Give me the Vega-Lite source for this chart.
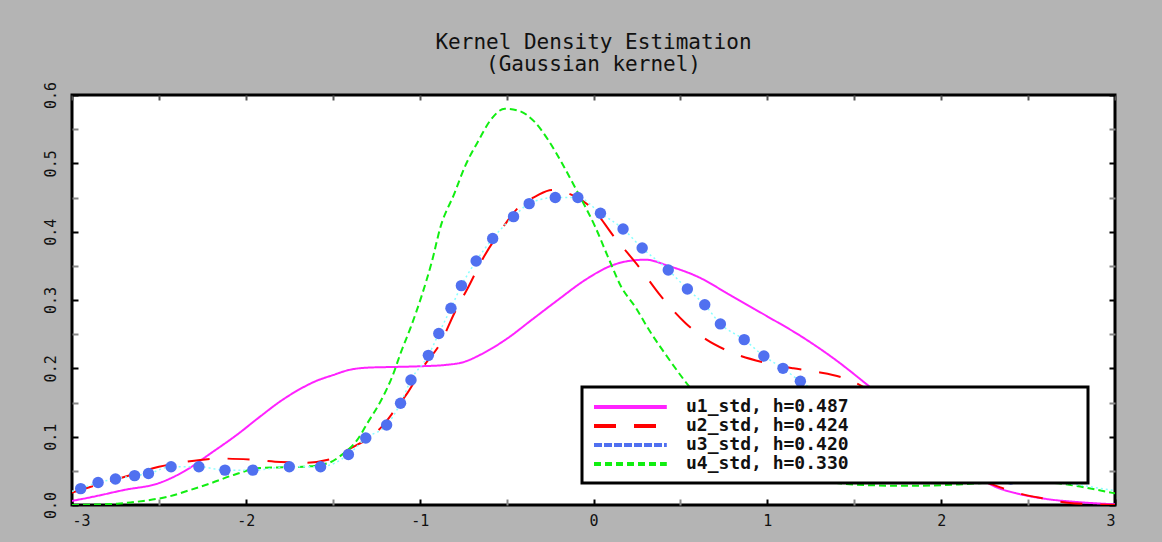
{
  "$schema": "https://vega.github.io/schema/vega-lite/v6.json",
  "autosize": {"type": "none"},
  "width": 1043,
  "height": 410,
  "padding": {"left": 72, "top": 95, "right": 47, "bottom": 37},
  "background": "#b4b4b4",
  "title": {
    "text": ["Kernel Density Estimation", "(Gaussian kernel)"],
    "anchor": "middle",
    "font": "DejaVu Sans Mono",
    "fontSize": 21,
    "fontWeight": "normal",
    "color": "#111111",
    "lineHeight": 22,
    "offset": 6
  },
  "config": {
    "view": {"fill": "white", "stroke": "black", "strokeWidth": 3},
    "axis": {"grid": false, "domain": false, "labelFont": "DejaVu Sans Mono", "labelFontSize": 15, "labelColor": "#111111", "tickWidth": 2},
    "legend": {"strokeWidth": 3}
  },
  "datasets": {
    "curves": [
      {"series": "u1_std, h=0.487", "x": -3.0, "y": 0.006},
      {"series": "u1_std, h=0.487", "x": -2.88, "y": 0.012},
      {"series": "u1_std, h=0.487", "x": -2.7, "y": 0.022},
      {"series": "u1_std, h=0.487", "x": -2.5, "y": 0.032},
      {"series": "u1_std, h=0.487", "x": -2.35, "y": 0.05},
      {"series": "u1_std, h=0.487", "x": -2.2, "y": 0.076},
      {"series": "u1_std, h=0.487", "x": -2.05, "y": 0.103},
      {"series": "u1_std, h=0.487", "x": -1.92, "y": 0.129},
      {"series": "u1_std, h=0.487", "x": -1.8, "y": 0.152},
      {"series": "u1_std, h=0.487", "x": -1.7, "y": 0.168},
      {"series": "u1_std, h=0.487", "x": -1.6, "y": 0.181},
      {"series": "u1_std, h=0.487", "x": -1.5, "y": 0.19},
      {"series": "u1_std, h=0.487", "x": -1.4, "y": 0.198},
      {"series": "u1_std, h=0.487", "x": -1.3, "y": 0.201},
      {"series": "u1_std, h=0.487", "x": -1.15, "y": 0.202},
      {"series": "u1_std, h=0.487", "x": -1.0, "y": 0.203},
      {"series": "u1_std, h=0.487", "x": -0.85, "y": 0.205},
      {"series": "u1_std, h=0.487", "x": -0.75, "y": 0.209},
      {"series": "u1_std, h=0.487", "x": -0.65, "y": 0.22},
      {"series": "u1_std, h=0.487", "x": -0.5, "y": 0.243},
      {"series": "u1_std, h=0.487", "x": -0.35, "y": 0.272},
      {"series": "u1_std, h=0.487", "x": -0.2, "y": 0.301},
      {"series": "u1_std, h=0.487", "x": -0.05, "y": 0.329},
      {"series": "u1_std, h=0.487", "x": 0.1, "y": 0.35},
      {"series": "u1_std, h=0.487", "x": 0.2, "y": 0.357},
      {"series": "u1_std, h=0.487", "x": 0.3, "y": 0.359},
      {"series": "u1_std, h=0.487", "x": 0.43, "y": 0.35},
      {"series": "u1_std, h=0.487", "x": 0.6, "y": 0.334},
      {"series": "u1_std, h=0.487", "x": 0.8, "y": 0.305},
      {"series": "u1_std, h=0.487", "x": 1.0, "y": 0.276},
      {"series": "u1_std, h=0.487", "x": 1.2, "y": 0.246},
      {"series": "u1_std, h=0.487", "x": 1.4, "y": 0.211},
      {"series": "u1_std, h=0.487", "x": 1.56, "y": 0.179},
      {"series": "u1_std, h=0.487", "x": 1.7, "y": 0.15},
      {"series": "u1_std, h=0.487", "x": 1.85, "y": 0.115},
      {"series": "u1_std, h=0.487", "x": 2.0, "y": 0.082},
      {"series": "u1_std, h=0.487", "x": 2.15, "y": 0.052},
      {"series": "u1_std, h=0.487", "x": 2.3, "y": 0.028},
      {"series": "u1_std, h=0.487", "x": 2.45, "y": 0.016},
      {"series": "u1_std, h=0.487", "x": 2.6, "y": 0.009},
      {"series": "u1_std, h=0.487", "x": 2.8, "y": 0.004},
      {"series": "u1_std, h=0.487", "x": 3.0, "y": 0.001},

      {"series": "u2_std, h=0.424", "x": -3.0, "y": 0.018},
      {"series": "u2_std, h=0.424", "x": -2.9, "y": 0.026},
      {"series": "u2_std, h=0.424", "x": -2.7, "y": 0.041},
      {"series": "u2_std, h=0.424", "x": -2.5, "y": 0.056},
      {"series": "u2_std, h=0.424", "x": -2.35, "y": 0.063},
      {"series": "u2_std, h=0.424", "x": -2.15, "y": 0.068},
      {"series": "u2_std, h=0.424", "x": -1.95, "y": 0.066},
      {"series": "u2_std, h=0.424", "x": -1.8, "y": 0.063},
      {"series": "u2_std, h=0.424", "x": -1.65, "y": 0.062},
      {"series": "u2_std, h=0.424", "x": -1.5, "y": 0.068},
      {"series": "u2_std, h=0.424", "x": -1.42, "y": 0.08},
      {"series": "u2_std, h=0.424", "x": -1.3, "y": 0.097},
      {"series": "u2_std, h=0.424", "x": -1.22, "y": 0.114},
      {"series": "u2_std, h=0.424", "x": -1.14, "y": 0.14},
      {"series": "u2_std, h=0.424", "x": -1.07, "y": 0.164},
      {"series": "u2_std, h=0.424", "x": -0.98, "y": 0.202},
      {"series": "u2_std, h=0.424", "x": -0.88, "y": 0.237},
      {"series": "u2_std, h=0.424", "x": -0.8, "y": 0.281},
      {"series": "u2_std, h=0.424", "x": -0.72, "y": 0.319},
      {"series": "u2_std, h=0.424", "x": -0.64, "y": 0.359},
      {"series": "u2_std, h=0.424", "x": -0.53, "y": 0.403},
      {"series": "u2_std, h=0.424", "x": -0.43, "y": 0.436},
      {"series": "u2_std, h=0.424", "x": -0.33, "y": 0.452},
      {"series": "u2_std, h=0.424", "x": -0.24, "y": 0.461},
      {"series": "u2_std, h=0.424", "x": -0.17, "y": 0.458},
      {"series": "u2_std, h=0.424", "x": -0.08, "y": 0.448},
      {"series": "u2_std, h=0.424", "x": 0.0, "y": 0.432},
      {"series": "u2_std, h=0.424", "x": 0.12, "y": 0.392},
      {"series": "u2_std, h=0.424", "x": 0.26, "y": 0.349},
      {"series": "u2_std, h=0.424", "x": 0.39, "y": 0.305},
      {"series": "u2_std, h=0.424", "x": 0.53, "y": 0.266},
      {"series": "u2_std, h=0.424", "x": 0.65, "y": 0.242},
      {"series": "u2_std, h=0.424", "x": 0.76, "y": 0.227},
      {"series": "u2_std, h=0.424", "x": 0.99, "y": 0.208},
      {"series": "u2_std, h=0.424", "x": 1.15, "y": 0.2},
      {"series": "u2_std, h=0.424", "x": 1.28, "y": 0.195},
      {"series": "u2_std, h=0.424", "x": 1.47, "y": 0.183},
      {"series": "u2_std, h=0.424", "x": 1.6, "y": 0.165},
      {"series": "u2_std, h=0.424", "x": 1.75, "y": 0.13},
      {"series": "u2_std, h=0.424", "x": 1.9, "y": 0.095},
      {"series": "u2_std, h=0.424", "x": 2.05, "y": 0.065},
      {"series": "u2_std, h=0.424", "x": 2.2, "y": 0.04},
      {"series": "u2_std, h=0.424", "x": 2.35, "y": 0.025},
      {"series": "u2_std, h=0.424", "x": 2.45, "y": 0.017},
      {"series": "u2_std, h=0.424", "x": 2.6, "y": 0.009},
      {"series": "u2_std, h=0.424", "x": 2.74, "y": 0.003},
      {"series": "u2_std, h=0.424", "x": 2.9, "y": 0.001},
      {"series": "u2_std, h=0.424", "x": 3.0, "y": 0.0},

      {"series": "u3_std, h=0.420", "x": -3.0, "y": 0.02, "m": 0},
      {"series": "u3_std, h=0.420", "x": -2.95, "y": 0.024, "m": 1},
      {"series": "u3_std, h=0.420", "x": -2.85, "y": 0.033, "m": 1},
      {"series": "u3_std, h=0.420", "x": -2.75, "y": 0.038, "m": 1},
      {"series": "u3_std, h=0.420", "x": -2.64, "y": 0.043, "m": 1},
      {"series": "u3_std, h=0.420", "x": -2.56, "y": 0.046, "m": 1},
      {"series": "u3_std, h=0.420", "x": -2.43, "y": 0.056, "m": 1},
      {"series": "u3_std, h=0.420", "x": -2.27, "y": 0.056, "m": 1},
      {"series": "u3_std, h=0.420", "x": -2.12, "y": 0.051, "m": 1},
      {"series": "u3_std, h=0.420", "x": -1.96, "y": 0.051, "m": 1},
      {"series": "u3_std, h=0.420", "x": -1.75, "y": 0.056, "m": 1},
      {"series": "u3_std, h=0.420", "x": -1.57, "y": 0.056, "m": 1},
      {"series": "u3_std, h=0.420", "x": -1.41, "y": 0.074, "m": 1},
      {"series": "u3_std, h=0.420", "x": -1.31, "y": 0.098, "m": 1},
      {"series": "u3_std, h=0.420", "x": -1.19, "y": 0.117, "m": 1},
      {"series": "u3_std, h=0.420", "x": -1.11, "y": 0.149, "m": 1},
      {"series": "u3_std, h=0.420", "x": -1.05, "y": 0.183, "m": 1},
      {"series": "u3_std, h=0.420", "x": -0.95, "y": 0.219, "m": 1},
      {"series": "u3_std, h=0.420", "x": -0.89, "y": 0.251, "m": 1},
      {"series": "u3_std, h=0.420", "x": -0.82, "y": 0.288, "m": 1},
      {"series": "u3_std, h=0.420", "x": -0.76, "y": 0.321, "m": 1},
      {"series": "u3_std, h=0.420", "x": -0.675, "y": 0.357, "m": 1},
      {"series": "u3_std, h=0.420", "x": -0.58, "y": 0.39, "m": 1},
      {"series": "u3_std, h=0.420", "x": -0.46, "y": 0.422, "m": 1},
      {"series": "u3_std, h=0.420", "x": -0.37, "y": 0.441, "m": 1},
      {"series": "u3_std, h=0.420", "x": -0.22, "y": 0.45, "m": 1},
      {"series": "u3_std, h=0.420", "x": -0.09, "y": 0.45, "m": 1},
      {"series": "u3_std, h=0.420", "x": 0.04, "y": 0.427, "m": 1},
      {"series": "u3_std, h=0.420", "x": 0.17, "y": 0.404, "m": 1},
      {"series": "u3_std, h=0.420", "x": 0.28, "y": 0.376, "m": 1},
      {"series": "u3_std, h=0.420", "x": 0.43, "y": 0.344, "m": 1},
      {"series": "u3_std, h=0.420", "x": 0.54, "y": 0.316, "m": 1},
      {"series": "u3_std, h=0.420", "x": 0.64, "y": 0.293, "m": 1},
      {"series": "u3_std, h=0.420", "x": 0.73, "y": 0.265, "m": 1},
      {"series": "u3_std, h=0.420", "x": 0.867, "y": 0.242, "m": 1},
      {"series": "u3_std, h=0.420", "x": 0.98, "y": 0.218, "m": 1},
      {"series": "u3_std, h=0.420", "x": 1.09, "y": 0.2, "m": 1},
      {"series": "u3_std, h=0.420", "x": 1.19, "y": 0.181, "m": 1},
      {"series": "u3_std, h=0.420", "x": 1.32, "y": 0.16, "m": 1},
      {"series": "u3_std, h=0.420", "x": 1.46, "y": 0.135, "m": 1},
      {"series": "u3_std, h=0.420", "x": 1.62, "y": 0.105, "m": 1},
      {"series": "u3_std, h=0.420", "x": 1.8, "y": 0.077, "m": 1},
      {"series": "u3_std, h=0.420", "x": 2.0, "y": 0.055, "m": 1},
      {"series": "u3_std, h=0.420", "x": 2.2, "y": 0.043, "m": 1},
      {"series": "u3_std, h=0.420", "x": 2.4, "y": 0.038, "m": 1},
      {"series": "u3_std, h=0.420", "x": 2.6, "y": 0.034, "m": 0},
      {"series": "u3_std, h=0.420", "x": 2.8, "y": 0.029, "m": 0},
      {"series": "u3_std, h=0.420", "x": 2.9, "y": 0.025, "m": 0},
      {"series": "u3_std, h=0.420", "x": 3.0, "y": 0.021, "m": 0},

      {"series": "u4_std, h=0.330", "x": -3.0, "y": 0.0},
      {"series": "u4_std, h=0.330", "x": -2.74, "y": 0.002},
      {"series": "u4_std, h=0.330", "x": -2.59, "y": 0.006},
      {"series": "u4_std, h=0.330", "x": -2.45, "y": 0.012},
      {"series": "u4_std, h=0.330", "x": -2.32, "y": 0.022},
      {"series": "u4_std, h=0.330", "x": -2.2, "y": 0.032},
      {"series": "u4_std, h=0.330", "x": -2.07, "y": 0.044},
      {"series": "u4_std, h=0.330", "x": -1.92, "y": 0.054},
      {"series": "u4_std, h=0.330", "x": -1.82, "y": 0.055},
      {"series": "u4_std, h=0.330", "x": -1.67, "y": 0.056},
      {"series": "u4_std, h=0.330", "x": -1.53, "y": 0.061},
      {"series": "u4_std, h=0.330", "x": -1.45, "y": 0.073},
      {"series": "u4_std, h=0.330", "x": -1.36, "y": 0.095},
      {"series": "u4_std, h=0.330", "x": -1.3, "y": 0.12},
      {"series": "u4_std, h=0.330", "x": -1.22, "y": 0.154},
      {"series": "u4_std, h=0.330", "x": -1.15, "y": 0.193},
      {"series": "u4_std, h=0.330", "x": -1.11, "y": 0.222},
      {"series": "u4_std, h=0.330", "x": -1.05, "y": 0.261},
      {"series": "u4_std, h=0.330", "x": -0.99, "y": 0.305},
      {"series": "u4_std, h=0.330", "x": -0.93, "y": 0.356},
      {"series": "u4_std, h=0.330", "x": -0.88, "y": 0.407},
      {"series": "u4_std, h=0.330", "x": -0.8, "y": 0.456},
      {"series": "u4_std, h=0.330", "x": -0.74, "y": 0.495},
      {"series": "u4_std, h=0.330", "x": -0.66, "y": 0.534},
      {"series": "u4_std, h=0.330", "x": -0.59, "y": 0.564},
      {"series": "u4_std, h=0.330", "x": -0.51, "y": 0.58},
      {"series": "u4_std, h=0.330", "x": -0.43, "y": 0.577},
      {"series": "u4_std, h=0.330", "x": -0.34, "y": 0.561},
      {"series": "u4_std, h=0.330", "x": -0.26, "y": 0.534},
      {"series": "u4_std, h=0.330", "x": -0.17, "y": 0.495},
      {"series": "u4_std, h=0.330", "x": -0.09, "y": 0.457},
      {"series": "u4_std, h=0.330", "x": 0.01, "y": 0.407},
      {"series": "u4_std, h=0.330", "x": 0.09, "y": 0.359},
      {"series": "u4_std, h=0.330", "x": 0.16, "y": 0.319},
      {"series": "u4_std, h=0.330", "x": 0.24, "y": 0.29},
      {"series": "u4_std, h=0.330", "x": 0.32, "y": 0.256},
      {"series": "u4_std, h=0.330", "x": 0.41, "y": 0.222},
      {"series": "u4_std, h=0.330", "x": 0.53, "y": 0.18},
      {"series": "u4_std, h=0.330", "x": 0.7, "y": 0.128},
      {"series": "u4_std, h=0.330", "x": 0.9, "y": 0.08},
      {"series": "u4_std, h=0.330", "x": 1.1, "y": 0.05},
      {"series": "u4_std, h=0.330", "x": 1.3, "y": 0.036},
      {"series": "u4_std, h=0.330", "x": 1.5, "y": 0.03},
      {"series": "u4_std, h=0.330", "x": 1.8, "y": 0.028},
      {"series": "u4_std, h=0.330", "x": 2.1, "y": 0.03},
      {"series": "u4_std, h=0.330", "x": 2.4, "y": 0.034},
      {"series": "u4_std, h=0.330", "x": 2.6, "y": 0.033},
      {"series": "u4_std, h=0.330", "x": 2.8, "y": 0.027},
      {"series": "u4_std, h=0.330", "x": 2.9, "y": 0.022},
      {"series": "u4_std, h=0.330", "x": 3.0, "y": 0.017}
    ]
  },
  "resolve": {"axis": {"x": "independent", "y": "independent"}},
  "layer": [
    {
      "data": {"name": "curves"},
      "transform": [{"filter": "datum.series != 'u3_std, h=0.420'"}],
      "mark": {"type": "line", "strokeWidth": 2, "clip": true, "interpolate": "monotone"},
      "encoding": {
        "x": {
          "field": "x", "type": "quantitative",
          "scale": {"domain": [-3, 3], "nice": false, "zero": false},
          "axis": {
            "orient": "bottom", "title": null,
            "values": [-3, -2.5, -2, -1.5, -1, -0.5, 0, 0.5, 1, 1.5, 2, 2.5, 3],
            "labelExpr": "datum.value % 1 == 0 ? replace(format(datum.value, 'd'), '−', '-') : ''",
            "tickSize": -6, "labelPadding": 14,
            "tickColor": {"condition": {"test": "datum.value % 1 == 0", "value": "black"}, "value": "#888888"}
          }
        },
        "y": {
          "field": "y", "type": "quantitative",
          "scale": {"domain": [0, 0.6], "nice": false, "zero": false},
          "axis": {
            "orient": "left", "title": null,
            "values": [0, 0.05, 0.1, 0.15, 0.2, 0.25, 0.3, 0.35, 0.4, 0.45, 0.5, 0.55, 0.6],
            "labelExpr": "abs(round(datum.value * 20)) % 2 == 0 ? format(datum.value, '.1f') : ''",
            "labelAngle": -90, "labelAlign": "center", "labelBaseline": "bottom",
            "tickSize": -6, "labelPadding": 20,
            "tickColor": {"condition": {"test": "abs(round(datum.value * 20)) % 2 == 0", "value": "black"}, "value": "#888888"}
          }
        },
        "color": {
          "field": "series", "type": "nominal",
          "scale": {
            "domain": ["u1_std, h=0.487", "u2_std, h=0.424", "u3_std, h=0.420", "u4_std, h=0.330"],
            "range": ["#ff22ff", "#ff0000", "#5070f0", "#11ee11"]
          },
          "legend": {
            "orient": "none", "legendX": 510, "legendY": 292,
            "title": ".", "titleOrient": "right", "titleColor": "white", "titleFontSize": 8, "titlePadding": 226,
            "fillColor": "white", "strokeColor": "black",
            "padding": 10, "rowPadding": 0,
            "symbolType": "M-1,0H8.1", "symbolSize": 256, "symbolStrokeWidth": 4,
            "labelFont": "DejaVu Sans Mono", "labelFontSize": 18, "labelFontWeight": "bold", "labelColor": "#111111",
            "labelOffset": 74, "labelLimit": 800,
            "encode": {
              "symbols": {
                "update": {
                  "stroke": {"signal": "datum.value == 'u1_std, h=0.487' ? '#ff80ff' : scale('color', datum.value)"}
                }
              }
            }
          }
        },
        "strokeDash": {
          "field": "series", "type": "nominal",
          "scale": {
            "domain": ["u1_std, h=0.487", "u2_std, h=0.424", "u3_std, h=0.420", "u4_std, h=0.330"],
            "range": [[1, 0], [22, 18], [8, 2], [7, 4]]
          }
        },
        "detail": {"field": "series"}
      }
    },
    {
      "data": {"name": "curves"},
      "transform": [{"filter": "datum.series == 'u3_std, h=0.420'"}],
      "mark": {"type": "line", "color": "#88ffff", "strokeWidth": 1.5, "strokeDash": [2, 3], "clip": true, "interpolate": "monotone"},
      "encoding": {
        "x": {
          "field": "x", "type": "quantitative",
          "axis": {
            "orient": "top", "title": null, "labels": false,
            "values": [-3, -2.5, -2, -1.5, -1, -0.5, 0, 0.5, 1, 1.5, 2, 2.5, 3],
            "tickSize": -5, "tickColor": "#555555"
          }
        },
        "y": {
          "field": "y", "type": "quantitative",
          "axis": {
            "orient": "right", "title": null, "labels": false,
            "values": [0, 0.05, 0.1, 0.15, 0.2, 0.25, 0.3, 0.35, 0.4, 0.45, 0.5, 0.55, 0.6],
            "tickSize": -6,
            "tickColor": {"condition": {"test": "abs(round(datum.value * 20)) % 2 == 0", "value": "black"}, "value": "#888888"}
          }
        }
      }
    },
    {
      "data": {"name": "curves"},
      "transform": [{"filter": "datum.series == 'u3_std, h=0.420' && datum.m == 1"}],
      "mark": {"type": "point", "shape": "circle", "filled": true, "color": "#5070f0", "size": 130, "opacity": 1, "clip": true},
      "encoding": {
        "x": {"field": "x", "type": "quantitative", "axis": null},
        "y": {"field": "y", "type": "quantitative", "axis": null}
      }
    }
  ]
}
